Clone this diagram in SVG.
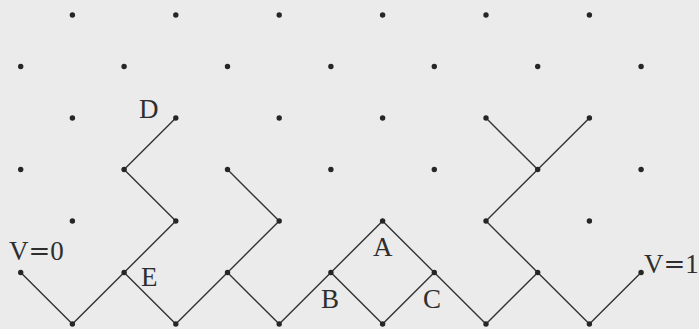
<svg xmlns="http://www.w3.org/2000/svg" width="699" height="329" viewBox="0 0 699 329">
<style>
.bg{fill:#ebebeb}
.e{fill:none;stroke:#333;stroke-width:1.4;stroke-linejoin:miter}
.d{fill:#262626}
.t{font-family:"Liberation Serif","Times New Roman",serif;font-size:27px;fill:#2e2e2e}
.eq{font-family:"DejaVu Serif",serif;font-size:26px}
</style>
<defs><circle id="dot" r="2.7"/></defs>
<rect class="bg" x="0" y="0" width="699" height="329"/>
<g id="connectors">
<polyline class="e" points="20.7,272.5 72.4,324 124.1,272.5 175.8,221 124.1,169.5 175.8,118"/>
<polyline class="e" points="124.1,272.5 175.8,324 227.5,272.5 279.2,221 227.5,169.5"/>
<polyline class="e" points="227.5,272.5 279.2,324 330.9,272.5 382.6,221 434.3,272.5 486,324 537.7,272.5 486,221 537.7,169.5 486,118"/>
<polyline class="e" points="330.9,272.5 382.6,324 434.3,272.5"/>
<polyline class="e" points="537.7,169.5 589.4,118"/>
<polyline class="e" points="537.7,272.5 589.4,324 641.1,272.5"/>
</g>
<g class="d">
<g id="n1-0"><use href="#dot" x="72.4" y="15"/></g>
<g id="n3-0"><use href="#dot" x="175.8" y="15"/></g>
<g id="n5-0"><use href="#dot" x="279.2" y="15"/></g>
<g id="n7-0"><use href="#dot" x="382.6" y="15"/></g>
<g id="n9-0"><use href="#dot" x="486" y="15"/></g>
<g id="n11-0"><use href="#dot" x="589.4" y="15"/></g>
<g id="n0-1"><use href="#dot" x="20.7" y="66.5"/></g>
<g id="n2-1"><use href="#dot" x="124.1" y="66.5"/></g>
<g id="n4-1"><use href="#dot" x="227.5" y="66.5"/></g>
<g id="n6-1"><use href="#dot" x="330.9" y="66.5"/></g>
<g id="n8-1"><use href="#dot" x="434.3" y="66.5"/></g>
<g id="n10-1"><use href="#dot" x="537.7" y="66.5"/></g>
<g id="n12-1"><use href="#dot" x="641.1" y="66.5"/></g>
<g id="n1-2"><use href="#dot" x="72.4" y="118"/></g>
<g id="nodeD"><use href="#dot" x="175.8" y="118"/><text class="t" x="139" y="118">D</text></g>
<g id="n5-2"><use href="#dot" x="279.2" y="118"/></g>
<g id="n7-2"><use href="#dot" x="382.6" y="118"/></g>
<g id="n9-2"><use href="#dot" x="486" y="118"/></g>
<g id="n11-2"><use href="#dot" x="589.4" y="118"/></g>
<g id="n0-3"><use href="#dot" x="20.7" y="169.5"/></g>
<g id="n2-3"><use href="#dot" x="124.1" y="169.5"/></g>
<g id="n4-3"><use href="#dot" x="227.5" y="169.5"/></g>
<g id="n6-3"><use href="#dot" x="330.9" y="169.5"/></g>
<g id="n8-3"><use href="#dot" x="434.3" y="169.5"/></g>
<g id="n10-3"><use href="#dot" x="537.7" y="169.5"/></g>
<g id="n12-3"><use href="#dot" x="641.1" y="169.5"/></g>
<g id="n1-4"><use href="#dot" x="72.4" y="221"/></g>
<g id="n3-4"><use href="#dot" x="175.8" y="221"/></g>
<g id="n5-4"><use href="#dot" x="279.2" y="221"/></g>
<g id="nodeA"><use href="#dot" x="382.6" y="221"/><text class="t" x="373" y="256">A</text></g>
<g id="n9-4"><use href="#dot" x="486" y="221"/></g>
<g id="n11-4"><use href="#dot" x="589.4" y="221"/></g>
<g id="nodeV0"><use href="#dot" x="20.7" y="272.5"/><text class="t" x="9" y="260">V<tspan class="eq">=</tspan>0</text></g>
<g id="nodeE"><use href="#dot" x="124.1" y="272.5"/><text class="t" x="141" y="286">E</text></g>
<g id="n4-5"><use href="#dot" x="227.5" y="272.5"/></g>
<g id="nodeB"><use href="#dot" x="330.9" y="272.5"/><text class="t" x="321" y="308">B</text></g>
<g id="nodeC"><use href="#dot" x="434.3" y="272.5"/><text class="t" x="423" y="308">C</text></g>
<g id="n10-5"><use href="#dot" x="537.7" y="272.5"/></g>
<g id="nodeV1"><use href="#dot" x="641.1" y="272.5"/><text class="t" x="644" y="273">V<tspan class="eq">=</tspan>1</text></g>
<g id="n1-6"><use href="#dot" x="72.4" y="324"/></g>
<g id="n3-6"><use href="#dot" x="175.8" y="324"/></g>
<g id="n5-6"><use href="#dot" x="279.2" y="324"/></g>
<g id="n7-6"><use href="#dot" x="382.6" y="324"/></g>
<g id="n9-6"><use href="#dot" x="486" y="324"/></g>
<g id="n11-6"><use href="#dot" x="589.4" y="324"/></g>
</g>
</svg>
